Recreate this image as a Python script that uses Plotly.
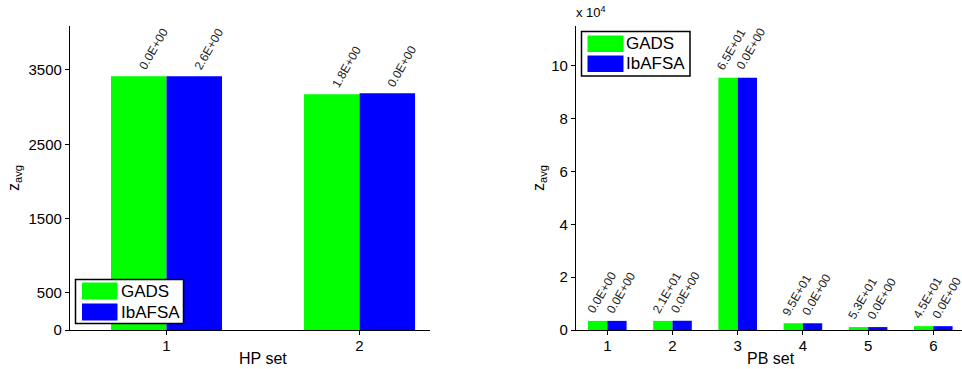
import plotly.graph_objects as go

# ---------------- data ----------------
series_names = ["GADS", "IbAFSA"]
series_colors = ["#00ff00", "#0000ff"]

hp_sets = [1, 2]
hp_gads = [3415, 3173]
hp_ibafsa = [3415, 3186]
hp_gads_lbl = ["0.0E+00", "1.8E+00"]
hp_ibafsa_lbl = ["2.6E+00", "0.0E+00"]

pb_sets = [1, 2, 3, 4, 5, 6]
pb_gads = [3450, 3450, 95400, 2550, 1100, 1450]
pb_ibafsa = [3450, 3500, 95400, 2550, 1100, 1450]
pb_gads_lbl = ["0.0E+00", "2.1E+01", "6.5E+01", "9.5E+01", "5.3E+01", "4.5E+01"]
pb_ibafsa_lbl = ["0.0E+00"] * 6

hp_yticks = [0, 500, 1500, 2500, 3500]
pb_yticks = [0, 20000, 40000, 60000, 80000, 100000]
pb_yticktext = ["0", "2", "4", "6", "8", "10"]

# ---------------- layout helpers ----------------
W, H = 962, 369
FONT = "Liberation Sans, Arial, Helvetica, sans-serif"

def px_x(p):
    return p / W

def px_y(p):
    return 1 - p / H

hp_w = 0.2876
pb_w = 0.296

fig = go.Figure()

fig.add_trace(go.Bar(x=hp_sets, y=hp_gads, width=hp_w, offset=-hp_w, marker_color=series_colors[0],
                     marker_line_width=0, name=series_names[0], xaxis="x", yaxis="y", showlegend=False))
fig.add_trace(go.Bar(x=hp_sets, y=hp_ibafsa, width=hp_w, offset=0, marker_color=series_colors[1],
                     marker_line_width=0, name=series_names[1], xaxis="x", yaxis="y", showlegend=False))
fig.add_trace(go.Bar(x=pb_sets, y=pb_gads, width=pb_w, offset=-pb_w, marker_color=series_colors[0],
                     marker_line_width=0, name=series_names[0], xaxis="x2", yaxis="y2", showlegend=False))
fig.add_trace(go.Bar(x=pb_sets, y=pb_ibafsa, width=pb_w, offset=0, marker_color=series_colors[1],
                     marker_line_width=0, name=series_names[1], xaxis="x2", yaxis="y2", showlegend=False))

annotations = []

def bar_labels(xs, ys, labels, off, xref, yref, xshift, yshift):
    for x, y, t in zip(xs, ys, labels):
        annotations.append(dict(x=x + off, y=y, xref=xref, yref=yref, text=t, showarrow=False,
                                textangle=-60, xanchor="left", yanchor="bottom",
                                xshift=xshift, yshift=yshift, borderpad=0,
                                font=dict(family=FONT, size=12, color="#222")))

bar_labels(hp_sets, hp_gads, hp_gads_lbl, -hp_w / 2, "x", "y", -4, 3)
bar_labels(hp_sets, hp_ibafsa, hp_ibafsa_lbl, hp_w / 2, "x", "y", -4, 3)
bar_labels(pb_sets, pb_gads, pb_gads_lbl, -pb_w / 2, "x2", "y2", -15, 4)
bar_labels(pb_sets, pb_ibafsa, pb_ibafsa_lbl, pb_w / 2, "x2", "y2", -15, 4)

def paper_text(x, y, text, size, angle=0, xanchor="center", yanchor="middle"):
    annotations.append(dict(x=px_x(x), y=px_y(y), xref="paper", yref="paper", text=text,
                            textangle=angle, xanchor=xanchor, yanchor=yanchor, showarrow=False,
                            font=dict(family=FONT, size=size, color="black")))

paper_text(15, 178, "z<sub>avg</sub>", 16, angle=-90)
paper_text(540, 178, "z<sub>avg</sub>", 16, angle=-90)
paper_text(263, 358, "HP set", 16)
paper_text(771, 358, "PB set", 16)
paper_text(574, 22, "x 10<sup>4</sup>", 13, xanchor="left", yanchor="bottom")

shapes = []

def legend(box, sw_x, rows, text_x):
    x0, y0, x1, y1 = box
    shapes.append(dict(type="rect", xref="paper", yref="paper", x0=px_x(x0), x1=px_x(x1),
                       y0=px_y(y1), y1=px_y(y0), line=dict(color="black", width=1.5),
                       fillcolor="white", layer="above"))
    for (ya, yb), name, col in zip(rows, series_names, series_colors):
        shapes.append(dict(type="rect", xref="paper", yref="paper", x0=px_x(sw_x[0]), x1=px_x(sw_x[1]),
                           y0=px_y(yb), y1=px_y(ya), line=dict(width=0), fillcolor=col, layer="above"))
        paper_text(text_x, (ya + yb) / 2, name, 17, xanchor="left", yanchor="middle")

legend((75.5, 279.5, 183.5, 323.5), (82, 117.5), [(282.5, 299.5), (303.5, 320.5)], 119)
legend((581.5, 31.5, 690, 76), (587.5, 623.5), [(35.5, 52), (55.5, 72)], 624)

axis_common = dict(showline=True, linecolor="black", linewidth=1.2, ticks="outside", ticklen=4,
                   tickcolor="black", showgrid=False, zeroline=False, automargin=False,
                   tickfont=dict(family=FONT, size=15, color="black"))

fig.update_layout(
    width=W, height=H,
    margin=dict(l=0, r=0, t=0, b=0, autoexpand=False),
    paper_bgcolor="white", plot_bgcolor="white",
    barmode="overlay",
    showlegend=False,
    xaxis=dict(domain=[px_x(70), px_x(430)], range=[0.5, 2.365], tickvals=hp_sets,
               anchor="y", ticklabelstandoff=-2, **axis_common),
    yaxis=dict(domain=[px_y(330), px_y(26)], range=[0, 4092], tickvals=hp_yticks,
               anchor="x", **axis_common),
    xaxis2=dict(domain=[px_x(576), 1], range=[0.52, 6.44], tickvals=pb_sets,
                anchor="y2", ticklabelstandoff=-2, **axis_common),
    yaxis2=dict(domain=[px_y(330), px_y(26)], range=[0, 115000], tickvals=pb_yticks,
                ticktext=pb_yticktext, anchor="x2", **axis_common),
    annotations=annotations,
    shapes=shapes,
)

fig.write_html("out.html", config={"displayModeBar": False},
               post_script="document.body.style.margin='0';document.body.style.overflow='hidden';")
